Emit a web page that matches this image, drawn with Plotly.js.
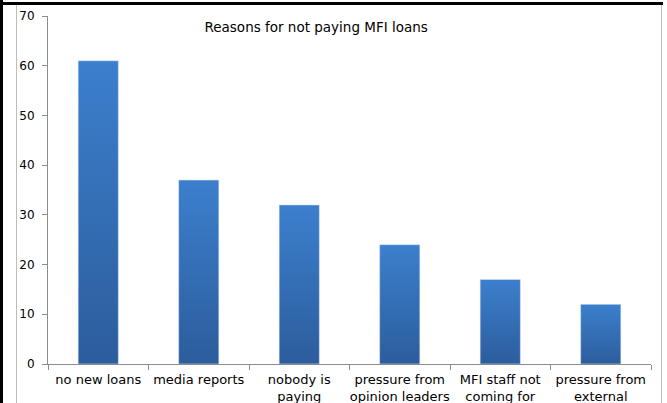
<!DOCTYPE html>
<html>
<head>
<meta charset="utf-8">
<script src="https://cdn.plot.ly/plotly-3.0.1.min.js"></script>
<style>
  html, body { margin: 0; padding: 0; background: #fff; }
  #wrap { position: relative; width: 667px; height: 403px; overflow: hidden; }
  #chart { position: absolute; left: 0; top: 0; width: 667px; height: 403px; }
  .ln { position: absolute; pointer-events: none; }
</style>
</head>
<body>
<div id="wrap">
  <div id="chart"></div>
  <div class="ln" style="left:0;top:2px;width:663px;height:3px;background:#000;"></div>
  <div class="ln" style="left:0;top:0;width:3px;height:403px;background:#000;"></div>
  <div class="ln" style="left:16px;top:5px;width:1px;height:398px;background:#bdbdbd;"></div>
  <div class="ln" style="left:661px;top:5px;width:1px;height:398px;background:#bdbdbd;"></div>
</div>
<script>
const chartTitle = "Reasons for not paying MFI loans";
const categories = ["no new loans", "media reports", "nobody is<br>paying", "pressure from<br>opinion leaders", "MFI staff not<br>coming for", "pressure from<br>external"];
const values = [61, 37, 32, 24, 17, 12];
const yTicks = [0, 10, 20, 30, 40, 50, 60, 70];

const fam = "DejaVu Sans, Verdana, sans-serif";

const trace = {
  type: "bar",
  x: categories,
  y: values,
  width: 0.4,
  marker: { color: "#3670b7", line: { width: 0.6, color: "rgba(220,230,245,0.9)" } },
  hoverinfo: "none"
};

const layout = {
  width: 667, height: 403,
  margin: { l: 48, r: 16, t: 16, b: 39, pad: 0 },
  paper_bgcolor: "rgba(0,0,0,0)",
  plot_bgcolor: "rgba(0,0,0,0)",
  font: { family: fam, size: 12, color: "#000" },
  showlegend: false,
  bargap: 0.6,
  title: { text: chartTitle, font: { family: fam, size: 13.5, color: "#000" }, x: 0.474, xanchor: "center", y: 0.933, yanchor: "middle" },
  xaxis: {
    type: "category",
    showline: true, linecolor: "#8c8c8c", linewidth: 1,
    ticks: "outside", ticklen: 5, tickcolor: "#8c8c8c", tickson: "boundaries",
    showgrid: false, zeroline: false,
    tickangle: 0,
    tickfont: { family: fam, size: 13, color: "#000" },
    ticklabelstandoff: 3,
    fixedrange: true
  },
  yaxis: {
    range: [0, 70],
    tickvals: yTicks,
    ticktext: yTicks.map(String),
    showline: true, linecolor: "#8c8c8c", linewidth: 1,
    ticks: "outside", ticklen: 5, tickcolor: "#8c8c8c",
    showgrid: false, zeroline: false,
    tickfont: { family: fam, size: 12, color: "#000" },
    ticklabelstandoff: 5,
    fixedrange: true
  }
};

Plotly.newPlot("chart", [trace], layout, { staticPlot: true, displayModeBar: false }).then(function (gd) {
  const svg = gd.querySelector("svg.main-svg");
  const ns = "http://www.w3.org/2000/svg";
  let defs = svg.querySelector("defs");
  if (!defs) { defs = document.createElementNS(ns, "defs"); svg.insertBefore(defs, svg.firstChild); }
  const grad = document.createElementNS(ns, "linearGradient");
  grad.setAttribute("id", "barGrad");
  grad.setAttribute("x1", "0"); grad.setAttribute("y1", "0");
  grad.setAttribute("x2", "0"); grad.setAttribute("y2", "1");
  [["0", "#3c7fcd"], ["1", "#2c5d9c"]].forEach(function (s) {
    const st = document.createElementNS(ns, "stop");
    st.setAttribute("offset", s[0]);
    st.setAttribute("stop-color", s[1]);
    grad.appendChild(st);
  });
  defs.appendChild(grad);
  gd.querySelectorAll(".barlayer .point path").forEach(function (p) {
    p.style.fill = "url(#barGrad)";
  });
});
</script>
</body>
</html>
